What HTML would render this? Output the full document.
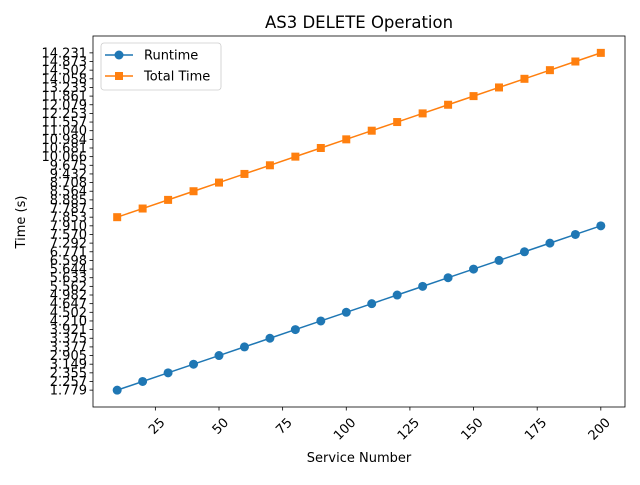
<!DOCTYPE html>
<html><head><meta charset="utf-8"><style>
body{margin:0;background:#fff}
svg text{font-family:"DejaVu Sans","Liberation Sans",sans-serif;fill:#000}
</style></head><body>
<svg id="c" width="640" height="480" xmlns="http://www.w3.org/2000/svg">
<text x="359" y="28" font-size="16.5" text-anchor="middle">AS3 DELETE Operation</text>
<text x="359" y="462" font-size="13" text-anchor="middle">Service Number</text>
<text transform="translate(25,222) rotate(-90)" font-size="13" text-anchor="middle">Time (s)</text>
<g id="plot"></g>
</svg>
<script>
const xs=[10,20,30,40,50,60,70,80,90,100,110,120,130,140,150,160,170,180,190,200];
const runtime=["1.779","2.257","2.355","3.149","2.905","3.377","3.375","3.921","4.210","4.502","4.647","4.982","5.562","5.633","5.644","6.598","6.771","7.292","7.570","7.910"];
const total=["7.853","7.787","8.885","8.564","8.708","9.432","9.675","10.066","10.681","10.984","11.040","11.557","12.253","12.079","11.861","13.233","14.058","14.502","14.873","14.231"];
const xTicks=[25,50,75,100,125,150,175,200];
const cats=[];
runtime.concat(total).forEach(v=>{if(!cats.includes(v))cats.push(v);});
const L=93,R=625,T=36,B=407;
const xMin=0.5,xMax=209.5,yMin=-1.95,yMax=cats.length-1+1.95;
const X=v=>L+(v-xMin)/(xMax-xMin)*(R-L);
const Y=c=>B-(cats.indexOf(c)-yMin)/(yMax-yMin)*(B-T);
const NS="http://www.w3.org/2000/svg";
const g=document.getElementById('plot');
function mk(t,a){const e=document.createElementNS(NS,t);for(const k in a)e.setAttribute(k,a[k]);g.appendChild(e);return e;}
// y ticks
cats.forEach(c=>{
 const y=Y(c);
 const t=mk('line',{x1:L-3.5,x2:L,y1:y,y2:y,stroke:'#000','stroke-width':0.8});
 
 
 const tx=mk('text',{x:L-6,y:y+4.5,'font-size':13,'text-anchor':'end'});
 tx.textContent=c;
 
 
});
xTicks.forEach(v=>{
 const x=X(v);
 const t=mk('line',{x1:x,x2:x,y1:B,y2:B+3.5,stroke:'#000','stroke-width':0.8});
 
 
 const tx=mk('text',{transform:`translate(${x+4},${B+10}) rotate(-45)`,'font-size':13,'text-anchor':'end','dominant-baseline':'hanging'});
 tx.textContent=v;
 
 
});
function series(vals,color,shape,name){
 const pl=mk('polyline',{points:xs.map((x,i)=>X(x)+','+Y(vals[i])).join(' '),fill:'none',stroke:color,'stroke-width':1.5});
 
 
 xs.forEach((x,i)=>{
  let m;
  if(shape==='c')m=mk('circle',{cx:X(x),cy:Y(vals[i]),r:4.5,fill:color});
  else m=mk('rect',{x:X(x)-4,y:Y(vals[i])-4,width:8,height:8,fill:color});
  
  
 });
}
series(runtime,'#1f77b4','c','runtime');
series(total,'#ff7f0e','s','total-time');
const f=mk('rect',{x:L,y:T,width:R-L,height:B-T,fill:'none',stroke:'#000','stroke-width':0.8});


// legend
const lg=mk('rect',{x:101,y:43,width:120,height:47,rx:3,fill:'#fff','fill-opacity':0.8,stroke:'#ccc','stroke-width':0.8});


[['Runtime','#1f77b4','c',55],['Total Time','#ff7f0e','s',76]].forEach(([n,c,s,y])=>{
 const l=mk('line',{x1:105,x2:133,y1:y,y2:y,stroke:c,'stroke-width':1.5});
 
 
 if(s==='c')mk('circle',{cx:119,cy:y,r:4.5,fill:c});else mk('rect',{x:115,y:y-4,width:8,height:8,fill:c});
 const t=mk('text',{x:144,y:y+4.5,'font-size':13});
 t.textContent=n;
 
 
});
</script>
</body></html>
